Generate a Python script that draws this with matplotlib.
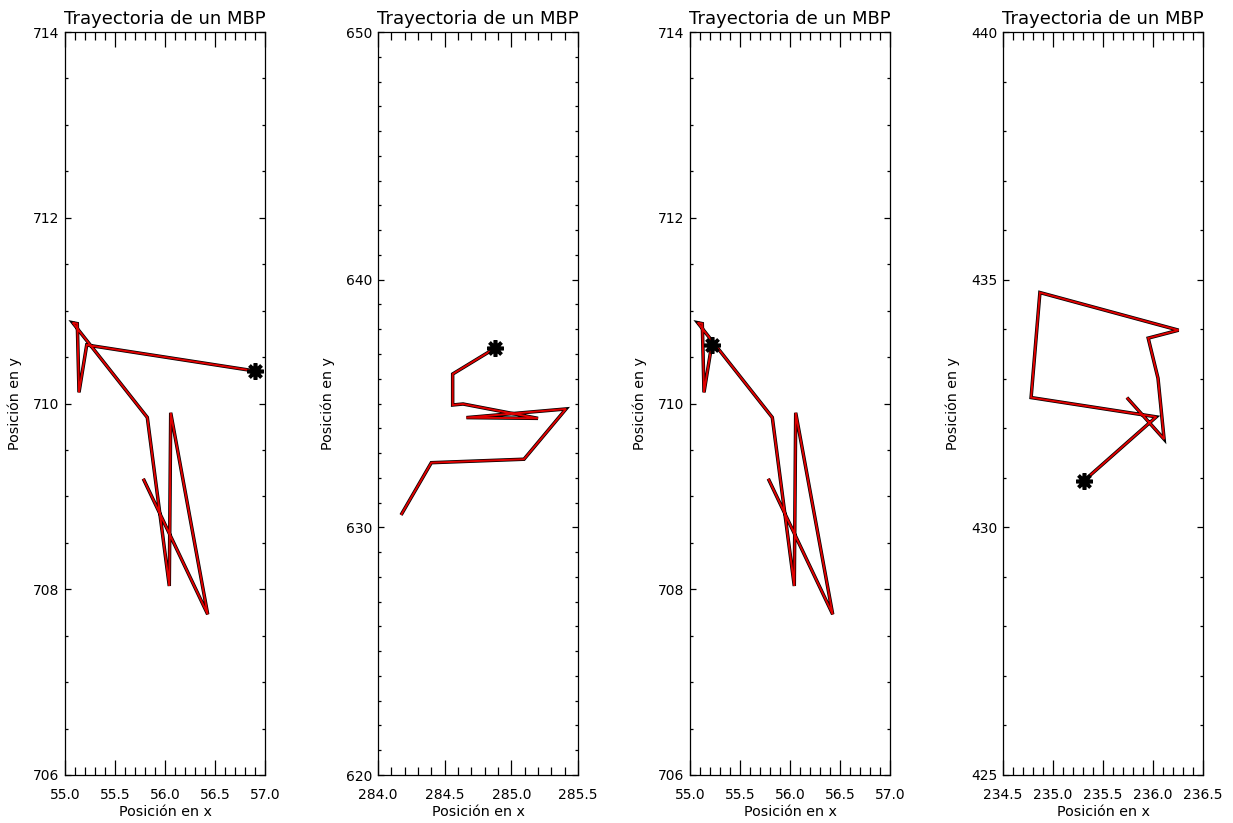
import matplotlib
matplotlib.use("Agg")
import matplotlib.pyplot as plt
from matplotlib.ticker import MultipleLocator, FormatStrFormatter

plt.rcParams['font.family'] = ['DejaVu Sans']

# Panel 1: full trajectory, star at final position
x1 = [55.783, 56.427, 56.057, 56.043, 55.823, 55.077, 55.123, 55.140, 55.217, 56.900]
y1 = [709.19, 707.73, 709.90, 708.035, 709.85, 710.87, 710.86, 710.12, 710.63, 710.35]

# Panel 2
x2 = [284.173, 284.400, 285.095, 285.410, 284.663, 285.200, 284.638, 284.560, 284.560, 284.877]
y2 = [630.50, 632.61, 632.75, 634.78, 634.43, 634.40, 634.98, 634.94, 636.19, 637.23]

# Panel 3: same track as panel 1, up to the earlier position
x3 = [55.783, 56.427, 56.057, 56.043, 55.823, 55.077, 55.123, 55.140, 55.217]
y3 = [709.19, 707.73, 709.90, 708.035, 709.85, 710.87, 710.86, 710.12, 710.63]

# Panel 4
x4 = [235.739, 236.111, 236.050, 235.952, 236.256, 234.869, 234.781, 236.033, 235.309]
y4 = [432.62, 431.78, 433.01, 433.82, 433.98, 434.74, 432.62, 432.23, 430.94]

xlims = [(55.0, 57.0), (284.0, 285.5), (55.0, 57.0), (234.5, 236.5)]
ylims = [(706, 714), (620, 650), (706, 714), (425, 440)]
ymajor = [2, 10, 2, 5]
yminor = [0.5, 1, 0.5, 1]
yfmt = ['%d', '%d', '%d', '%d']

title = "Trayectoria de un MBP"
xlabel = "Posición en x"
ylabel = "Posición en y"

W, H = 1233, 823
fig = plt.figure(figsize=(W / 100, H / 100), dpi=100)
lefts = [65, 378, 690, 1003]
ax_w, ax_bot, ax_top = 200, 775, 32

data = [(x1, y1), (x2, y2), (x3, y3), (x4, y4)]
for i, (xs, ys) in enumerate(data):
    ax = fig.add_axes([lefts[i] / W, (H - ax_bot) / H, ax_w / W, (ax_bot - ax_top) / H])
    ax.plot(xs, ys, color='black', lw=2.5, solid_joinstyle='miter', solid_capstyle='butt', zorder=2)
    ax.plot(xs, ys, color='#e00000', lw=1.4, solid_joinstyle='miter', solid_capstyle='butt', zorder=3)
    ax.plot([xs[-1]], [ys[-1]], marker=(8, 2, 0), color='black', ms=12, mew=2.6, zorder=4)
    ax.set_xlim(*xlims[i])
    ax.set_ylim(*ylims[i])
    ax.xaxis.set_major_locator(MultipleLocator(0.5))
    ax.xaxis.set_minor_locator(MultipleLocator(0.1))
    ax.yaxis.set_major_locator(MultipleLocator(ymajor[i]))
    ax.yaxis.set_minor_locator(MultipleLocator(yminor[i]))
    ax.xaxis.set_major_formatter(FormatStrFormatter('%.1f'))
    ax.yaxis.set_major_formatter(FormatStrFormatter(yfmt[i]))
    ax.tick_params(axis='x', which='major', direction='in', length=11, width=0.9,
                   top=True, bottom=True, labelsize=10, pad=9.5)
    ax.tick_params(axis='x', which='minor', direction='in', length=5.5, width=0.9,
                   top=True, bottom=True)
    ax.tick_params(axis='y', which='major', direction='in', length=4, width=0.9,
                   left=True, right=True, labelsize=10, pad=4)
    ax.tick_params(axis='y', which='minor', direction='in', length=2, width=0.9,
                   left=True, right=True)
    for s in ax.spines.values():
        s.set_linewidth(0.9)
    ax.set_title(title, fontsize=13, pad=6)
    ax.set_xlabel(xlabel, fontsize=10.3)
    ax.set_ylabel(ylabel, fontsize=10.3)
    ax.xaxis.set_label_coords(0.5, -0.041)
    ax.yaxis.set_label_coords(-0.215, 0.5)

fig.savefig("out.png", dpi=100)
